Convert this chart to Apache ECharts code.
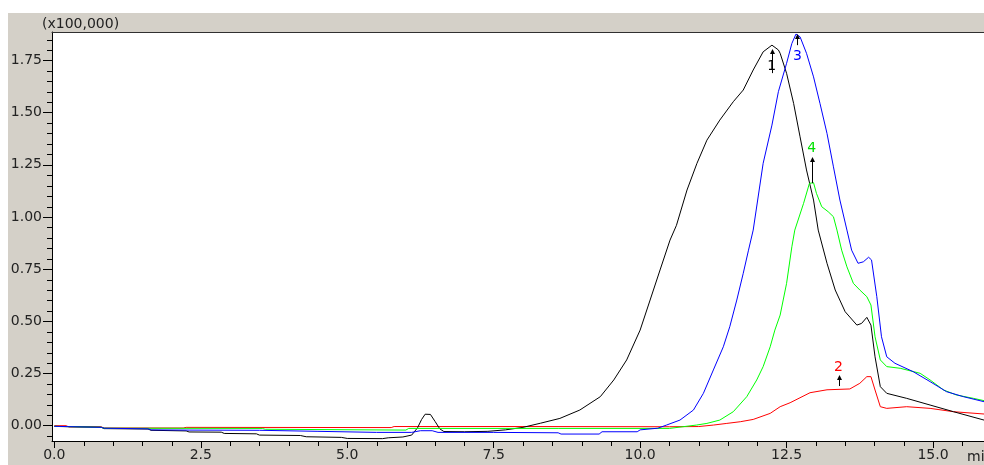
<!DOCTYPE html>
<html><head><meta charset="utf-8">
<script src="https://cdn.jsdelivr.net/npm/echarts@6/dist/echarts.min.js"></script>
<style>html,body{margin:0;padding:0;background:#d4d0c8}#c{width:984px;height:465px}</style>
</head><body><div id="c"></div>
<script>
// Chromatogram traces: [time (min), intensity (x100,000)]
const trace1 = [[0.00,-0.003],[0.10,-0.004],[0.80,-0.007],[0.85,-0.014],[1.60,-0.016],[1.65,-0.022],[2.25,-0.025],[2.30,-0.030],[2.85,-0.031],[2.90,-0.037],[3.45,-0.039],[3.50,-0.045],[4.20,-0.047],[4.30,-0.053],[4.90,-0.056],[5.00,-0.061],[5.60,-0.062],[5.70,-0.058],[5.95,-0.054],[6.10,-0.045],[6.20,-0.010],[6.27,0.030],[6.33,0.055],[6.42,0.054],[6.50,0.020],[6.58,-0.015],[6.65,-0.028],[7.00,-0.029],[7.40,-0.027],[7.70,-0.020],[8.00,-0.008],[8.30,0.012],[8.63,0.035],[8.97,0.075],[9.32,0.139],[9.55,0.219],[9.77,0.315],[10.00,0.458],[10.17,0.602],[10.34,0.746],[10.51,0.889],[10.62,0.960],[10.80,1.129],[10.97,1.257],[11.14,1.368],[11.36,1.464],[11.59,1.552],[11.76,1.608],[11.93,1.704],[12.10,1.791],[12.25,1.823],[12.36,1.800],[12.39,1.784],[12.50,1.688],[12.62,1.544],[12.73,1.384],[12.84,1.225],[12.96,1.081],[13.04,0.937],[13.19,0.778],[13.33,0.650],[13.50,0.546],[13.70,0.482],[13.78,0.490],[13.87,0.519],[13.94,0.482],[14.01,0.330],[14.10,0.187],[14.21,0.155],[14.55,0.131],[14.95,0.099],[15.35,0.067],[15.87,0.027],[16.50,0.005]];
const trace2 = [[0.00,0.000],[0.20,0.000],[0.25,-0.006],[0.80,-0.006],[0.85,-0.011],[2.20,-0.011],[2.25,-0.008],[5.75,-0.009],[5.80,-0.004],[8.00,-0.004],[10.50,-0.005],[11.00,-0.004],[11.25,0.003],[11.48,0.011],[11.71,0.019],[11.93,0.030],[12.22,0.059],[12.39,0.091],[12.56,0.110],[12.90,0.158],[13.19,0.172],[13.58,0.176],[13.75,0.203],[13.87,0.235],[13.94,0.235],[14.01,0.171],[14.10,0.091],[14.21,0.083],[14.55,0.091],[14.95,0.083],[15.35,0.067],[15.87,0.056],[16.50,0.045]];
const trace3 = [[0.00,-0.003],[0.80,-0.008],[0.85,-0.012],[1.60,-0.015],[1.65,-0.020],[2.30,-0.021],[3.50,-0.022],[4.50,-0.027],[5.50,-0.032],[6.10,-0.032],[6.25,-0.024],[6.45,-0.024],[6.55,-0.032],[7.50,-0.032],[8.60,-0.034],[8.65,-0.040],[9.30,-0.040],[9.35,-0.029],[9.95,-0.029],[10.00,-0.020],[10.30,-0.012],[10.45,0.003],[10.68,0.027],[10.91,0.075],[11.08,0.155],[11.25,0.267],[11.42,0.378],[11.53,0.474],[11.65,0.602],[11.76,0.730],[11.85,0.841],[11.93,0.937],[12.10,1.257],[12.25,1.440],[12.36,1.600],[12.50,1.736],[12.59,1.831],[12.66,1.876],[12.73,1.863],[12.84,1.784],[12.96,1.671],[13.07,1.544],[13.19,1.400],[13.30,1.240],[13.41,1.081],[13.53,0.937],[13.61,0.841],[13.72,0.778],[13.81,0.785],[13.90,0.807],[13.95,0.794],[14.04,0.618],[14.12,0.426],[14.21,0.330],[14.35,0.299],[14.66,0.259],[14.95,0.211],[15.23,0.163],[15.52,0.139],[15.87,0.115],[16.50,0.090]];
const trace4 = [[0.00,-0.003],[0.80,-0.008],[0.85,-0.012],[3.55,-0.013],[3.60,-0.017],[6.00,-0.021],[6.05,-0.013],[8.60,-0.013],[10.50,-0.013],[10.96,0.003],[11.14,0.011],[11.36,0.027],[11.59,0.067],[11.82,0.139],[11.99,0.219],[12.10,0.283],[12.22,0.378],[12.30,0.458],[12.39,0.530],[12.50,0.682],[12.59,0.857],[12.64,0.937],[12.79,1.065],[12.89,1.161],[12.96,1.164],[13.01,1.113],[13.10,1.049],[13.21,1.025],[13.30,1.001],[13.36,0.937],[13.44,0.841],[13.53,0.761],[13.64,0.682],[13.75,0.650],[13.87,0.618],[13.94,0.578],[14.01,0.426],[14.10,0.315],[14.21,0.283],[14.44,0.275],[14.78,0.251],[14.95,0.219],[15.18,0.171],[15.40,0.147],[15.69,0.131],[15.87,0.120],[16.50,0.095]];

// Peak annotations
const annLabels = ['1','2','3','4'];
const annColors = ['#000000','#ff0000','#0000ff','#00e000'];
const annT = [12.246, 13.387, 12.684, 12.93];
const annTail = [1.689, 0.190, 1.823, 1.162];
const annTip = [1.804, 0.243, 1.876, 1.287];
const annText = [1.723, 0.281, 1.771, 1.329];

// Axis ticks
const xTicks = [0, 2.5, 5, 7.5, 10, 12.5, 15];
const xMinorTicks = [0.5,1,1.5,2,3,3.5,4,4.5,5.5,6,6.5,7,8,8.5,9,9.5,10.5,11,11.5,12,13,13.5,14,14.5,15.5];
const yTicks = [0, 0.25, 0.5, 0.75, 1.0, 1.25, 1.5, 1.75];
const yMinorTicks = [-0.05,0.05,0.1,0.15,0.2,0.3,0.35,0.4,0.45,0.55,0.6,0.65,0.7,0.8,0.85,0.9,0.95,1.05,1.1,1.15,1.2,1.3,1.35,1.4,1.45,1.55,1.6,1.65,1.7,1.8,1.85];

const X_MIN = -0.04, X_MAX = 15.87, Y_MIN = -0.0733, Y_MAX = 1.886;
const FONT = 'DejaVu Sans';
const chart = echarts.init(document.getElementById('c'), null, {renderer: 'canvas'});

function lineSeries(name, data, color) {
  return {name, type: 'line', data, symbol: 'none', smooth: false, animation: false,
    lineStyle: {color, width: 1}, itemStyle: {color}, clip: true, z: 3};
}

chart.setOption({
  animation: false,
  backgroundColor: '#d4d0c8',
  grid: {left: 52, top: 32, right: 0, height: 409, show: true, backgroundColor: '#ffffff', borderWidth: 0},
  xAxis: [
    {type: 'value', min: X_MIN, max: X_MAX, position: 'bottom',
      axisLine: {show: true, onZero: false, lineStyle: {color: '#000', width: 1}},
      axisTick: {show: true, inside: false, length: 7, customValues: xTicks, lineStyle: {color: '#000'}},
      axisLabel: {show: true, customValues: xTicks, margin: 7, color: '#222', fontFamily: FONT, fontSize: 14,
        formatter: v => v.toFixed(1)},
      splitLine: {show: false}},
    {type: 'value', min: X_MIN, max: X_MAX, position: 'top',
      axisLine: {show: true, onZero: false, lineStyle: {color: '#303030', width: 1}},
      axisTick: {show: false}, axisLabel: {show: false}, splitLine: {show: false}}
  ],
  yAxis: [
    {type: 'value', min: Y_MIN, max: Y_MAX, position: 'left',
      axisLine: {show: true, onZero: false, lineStyle: {color: '#000', width: 1}},
      axisTick: {show: true, inside: false, length: 9, customValues: yTicks, lineStyle: {color: '#000'}},
      axisLabel: {show: true, customValues: yTicks, margin: 10, color: '#222', fontFamily: FONT, fontSize: 14,
        formatter: v => v.toFixed(2)},
      splitLine: {show: false}}
  ],
  graphic: [
    {type: 'rect', left: 0, top: 0, shape: {width: 984, height: 13}, style: {fill: '#ffffff'}, z: 0, silent: true},
    {type: 'rect', left: 0, top: 0, shape: {width: 8, height: 465}, style: {fill: '#ffffff'}, z: 0, silent: true},
    {type: 'text', left: 42, top: 17, style: {text: '(x100,000)', fill: '#222', font: '14px ' + FONT}, z: 10},
    {type: 'text', left: 967, top: 450, style: {text: 'min', fill: '#222', font: '14px ' + FONT}, z: 10}
  ],
  series: [
    lineSeries('2', trace2, '#ff0000'),
    lineSeries('1', trace1, '#000000'),
    lineSeries('4', trace4, '#00ff00'),
    lineSeries('3', trace3, '#0000ff'),
    {type: 'custom', name: 'peaks', animation: false, z: 5,
      data: annT.map((t, i) => [t, annTail[i], annTip[i], annText[i]]),
      encode: {x: 0, y: [1, 2, 3]},
      renderItem: function (params, api) {
        const i = params.dataIndex;
        const t = api.value(0);
        const p0 = api.coord([t, api.value(1)]);
        const p1 = api.coord([t, api.value(2)]);
        const pt = api.coord([t, api.value(3)]);
        const x = Math.round(p0[0]) + 0.5;
        return {type: 'group', children: [
          {type: 'line', shape: {x1: x, y1: p0[1], x2: x, y2: p1[1] + 2}, style: {stroke: '#000', lineWidth: 1}},
          {type: 'polygon', shape: {points: [[x, p1[1]], [x - 2.5, p1[1] + 5], [x + 2.5, p1[1] + 5]]}, style: {fill: '#000'}},
          {type: 'text', x: pt[0], y: pt[1], style: {text: annLabels[i], fill: annColors[i], font: '14px ' + FONT, align: 'center', verticalAlign: 'middle'}}
        ]};
      }},
    // minor axis ticks, placed through the axis scales
    {type: 'custom', name: 'minorTicks', animation: false, silent: true, z: 6, clip: false,
      data: [[1, 1]], encode: {x: 0, y: 1},
      renderItem: function (params, api) {
        const children = [];
        xMinorTicks.forEach(v => {
          const p = api.coord([v, Y_MIN]);
          const x = Math.round(p[0]) + 0.5;
          children.push({type: 'line', shape: {x1: x, y1: p[1], x2: x, y2: p[1] + 5}, style: {stroke: '#000', lineWidth: 1}});
        });
        yMinorTicks.forEach(v => {
          const p = api.coord([X_MIN, v]);
          const y = Math.round(p[1]) + 0.5;
          children.push({type: 'line', shape: {x1: p[0] - 5, y1: y, x2: p[0], y2: y}, style: {stroke: '#000', lineWidth: 1}});
        });
        return {type: 'group', children};
      }}
  ]
});
</script></body></html>
